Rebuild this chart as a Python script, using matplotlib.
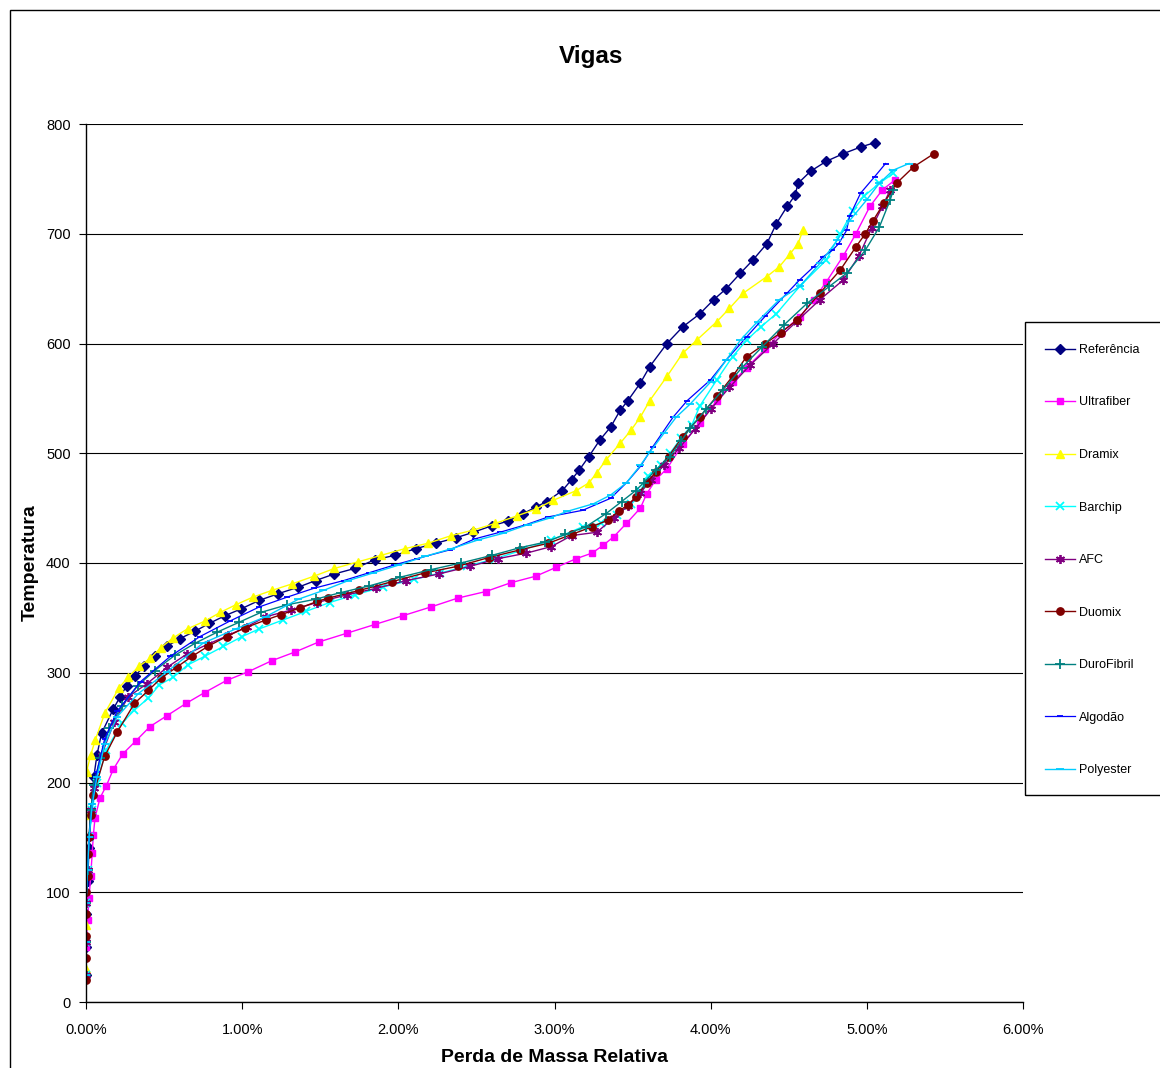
import matplotlib
matplotlib.use("Agg")
import matplotlib.pyplot as plt
from matplotlib.patches import Rectangle
from matplotlib.ticker import FuncFormatter

plt.rcParams['font.family'] = ['Liberation Sans', 'DejaVu Sans']

# x = perda de massa relativa (%), T = temperatura
ref_x = [0.00, 0.00, 0.00, 0.01, 0.02, 0.03, 0.05, 0.07, 0.10, 0.175, 0.218, 0.26, 0.314, 0.371, 0.442, 0.517, 0.60, 0.70,
         0.79, 0.89, 0.99, 1.11, 1.23, 1.36, 1.47, 1.59, 1.72, 1.85, 1.98, 2.11, 2.24, 2.37, 2.48, 2.60, 2.70, 2.80, 2.88,
         2.95, 3.05, 3.11, 3.16, 3.22, 3.29, 3.36, 3.42, 3.47, 3.55, 3.61, 3.72, 3.82, 3.93, 4.02, 4.10, 4.19, 4.27, 4.36,
         4.42, 4.49, 4.54, 4.56, 4.64, 4.74, 4.85, 4.96, 5.05]
ref_t = [25, 50, 80, 110, 140, 170, 205, 225, 245, 267, 278, 288, 297, 306, 315, 324, 331, 338,
         345, 352, 358, 366, 372, 378, 384, 390, 395, 403, 407, 413, 418, 423, 428, 434, 438, 445, 451,
         456, 466, 476, 485, 497, 512, 524, 539, 548, 564, 579, 600, 615, 627, 640, 650, 664, 676, 691,
         709, 725, 735, 746, 757, 766, 773, 779, 783]

ultra_x = [0.00, 0.00, 0.01, 0.02, 0.03, 0.04, 0.047, 0.058, 0.09, 0.13, 0.175, 0.235, 0.32, 0.41, 0.52, 0.64, 0.76,
           0.90, 1.04, 1.19, 1.34, 1.49, 1.67, 1.85, 2.03, 2.21, 2.38, 2.56, 2.72, 2.88, 3.01, 3.14, 3.24, 3.31, 3.38,
           3.46, 3.55, 3.59, 3.65, 3.72, 3.82, 3.93, 4.04, 4.14, 4.23, 4.35, 4.45, 4.57, 4.66, 4.74, 4.85, 4.93, 5.02,
           5.10, 5.18]
ultra_t = [25, 50, 75, 95, 115, 136, 152, 168, 186, 197, 212, 226, 238, 251, 261, 272, 282,
           293, 301, 311, 319, 328, 336, 344, 352, 360, 368, 374, 382, 388, 396, 404, 409, 416, 424,
           436, 450, 463, 476, 486, 508, 528, 548, 565, 578, 595, 610, 624, 640, 656, 680, 700, 725,
           740, 749]

dramix_x = [0.00, 0.00, 0.00, 0.00, 0.004, 0.03, 0.06, 0.12, 0.21, 0.27, 0.34, 0.41, 0.48, 0.56, 0.65, 0.76, 0.86,
            0.96, 1.07, 1.19, 1.32, 1.46, 1.59, 1.74, 1.89, 2.04, 2.19, 2.34, 2.48, 2.62, 2.76, 2.88, 2.99, 3.14,
            3.22, 3.27, 3.33, 3.42, 3.49, 3.55, 3.61, 3.72, 3.82, 3.91, 4.04, 4.12, 4.21, 4.36, 4.44, 4.51, 4.56, 4.59]
dramix_t = [30, 70, 120, 170, 210, 225, 239, 263, 286, 296, 306, 313, 323, 332, 340, 347, 355,
            362, 369, 375, 381, 388, 395, 401, 407, 413, 418, 425, 430, 436, 443, 449, 457, 466,
            473, 482, 494, 509, 521, 533, 548, 570, 591, 603, 620, 632, 646, 661, 670, 682, 691, 703]

barchip_x = [0.00, 0.00, 0.00, 0.01, 0.02, 0.04, 0.07, 0.13, 0.23, 0.31, 0.40, 0.47, 0.56, 0.65, 0.76, 0.88, 1.00,
             1.11, 1.26, 1.41, 1.56, 1.72, 1.90, 2.10, 2.27, 2.44, 2.62, 2.80, 2.98, 3.18, 3.30, 3.40, 3.49, 3.55,
             3.60, 3.68, 3.74, 3.81, 3.88, 3.93, 4.04, 4.14, 4.23, 4.32, 4.42, 4.57, 4.74, 4.83, 4.91, 4.98, 5.08, 5.17]
barchip_t = [25, 55, 90, 120, 150, 175, 200, 230, 254, 266, 277, 289, 296, 307, 315, 324, 333,
             340, 348, 356, 364, 371, 378, 385, 391, 397, 404, 412, 421, 433, 436, 444, 454, 466,
             479, 489, 500, 514, 526, 543, 567, 588, 603, 615, 627, 652, 676, 700, 721, 734, 746, 755]

afc_x = [0.00, 0.00, 0.00, 0.01, 0.02, 0.03, 0.05, 0.10, 0.18, 0.27, 0.39, 0.52, 0.645, 0.78, 0.91, 1.03, 1.15, 1.31,
         1.48, 1.67, 1.86, 2.05, 2.26, 2.46, 2.64, 2.82, 2.98, 3.11, 3.27, 3.38, 3.47, 3.55, 3.62, 3.70, 3.80, 3.90,
         4.00, 4.12, 4.25, 4.40, 4.55, 4.70, 4.85, 4.95, 5.03, 5.10, 5.15]
afc_t = [25, 55, 90, 120, 150, 175, 195, 225, 255, 278, 290, 305, 317, 326, 334, 342, 351, 357,
         364, 371, 377, 384, 390, 397, 404, 409, 415, 425, 428, 441, 452, 464, 476, 489, 505, 522,
         540, 560, 580, 600, 620, 640, 658, 680, 705, 725, 740]

duomix_x = [0.00, 0.00, 0.00, 0.00, 0.00, 0.01, 0.01, 0.02, 0.03, 0.047, 0.12, 0.20, 0.31, 0.40, 0.48, 0.58, 0.68,
            0.78, 0.90, 1.02, 1.15, 1.25, 1.37, 1.48, 1.55, 1.75, 1.96, 2.17, 2.38, 2.58, 2.78, 2.96, 3.11, 3.24,
            3.34, 3.41, 3.47, 3.52, 3.59, 3.65, 3.73, 3.82, 3.93, 4.04, 4.14, 4.23, 4.35, 4.45, 4.55, 4.70, 4.83,
            4.93, 4.99, 5.04, 5.11, 5.19, 5.30, 5.43]
duomix_t = [20, 40, 60, 80, 100, 115, 135, 150, 170, 189, 224, 246, 272, 284, 295, 305, 315,
            324, 333, 341, 348, 353, 359, 365, 368, 375, 383, 391, 397, 405, 412, 418, 426, 433,
            439, 447, 453, 460, 473, 483, 497, 515, 533, 552, 570, 588, 600, 610, 621, 646, 667,
            688, 700, 712, 728, 746, 761, 773]

duro_x = [0.00, 0.00, 0.00, 0.01, 0.02, 0.03, 0.05, 0.09, 0.15, 0.23, 0.33, 0.44, 0.57, 0.70, 0.84, 0.98, 1.12,
          1.29, 1.47, 1.63, 1.81, 2.01, 2.21, 2.40, 2.60, 2.78, 2.94, 3.07, 3.20, 3.33, 3.43, 3.52, 3.57, 3.65,
          3.74, 3.81, 3.87, 3.97, 4.08, 4.20, 4.33, 4.47, 4.62, 4.76, 4.87, 4.99, 5.08, 5.15, 5.17]
duro_t = [25, 55, 90, 120, 150, 175, 198, 222, 250, 270, 288, 302, 316, 327, 337, 346, 355,
          362, 367, 373, 379, 387, 394, 400, 407, 414, 419, 426, 433, 445, 456, 466, 473, 485,
          497, 511, 523, 540, 558, 578, 597, 617, 637, 652, 664, 685, 706, 731, 740]

algodao_x = [0.00, 0.00, 0.00, 0.01, 0.02, 0.04, 0.07, 0.12, 0.20, 0.35, 0.54, 0.73, 0.92, 1.11, 1.29, 1.46, 1.65,
             1.81, 1.97, 2.12, 2.33, 2.49, 2.65, 2.82, 2.96, 3.18, 3.36, 3.46, 3.55, 3.63, 3.76, 3.85, 4.00, 4.10,
             4.23, 4.35, 4.49, 4.57, 4.66, 4.72, 4.78, 4.82, 4.87, 4.89, 4.96, 5.05, 5.12]
algodao_t = [25, 55, 90, 120, 150, 180, 210, 240, 265, 292, 315, 333, 347, 360, 369, 377, 384,
             391, 398, 404, 412, 422, 428, 435, 442, 448, 459, 473, 488, 506, 533, 548, 567, 585,
             606, 625, 646, 658, 670, 679, 685, 691, 703, 716, 737, 752, 764]

poly_x = [0.00, 0.00, 0.00, 0.01, 0.02, 0.04, 0.07, 0.12, 0.20, 0.335, 0.52, 0.75, 0.96, 1.15, 1.36, 1.52, 1.68,
          1.84, 2.00, 2.17, 2.34, 2.51, 2.67, 2.83, 2.97, 3.08, 3.25, 3.36, 3.46, 3.55, 3.61, 3.70, 3.78, 3.87,
          4.00, 4.10, 4.19, 4.30, 4.44, 4.57, 4.70, 4.81, 4.89, 5.00, 5.08, 5.17, 5.27]
poly_t = [25, 55, 90, 120, 150, 180, 205, 235, 260, 281, 301, 327, 340, 351, 367, 375, 384,
          391, 398, 406, 413, 421, 427, 435, 441, 447, 454, 462, 473, 489, 501, 518, 533, 545,
          565, 585, 603, 620, 640, 652, 673, 694, 712, 731, 746, 758, 764]

series = [
    ("Referência", ref_x, ref_t, "#000080", "D", 4.6, 1.0),
    ("Ultrafiber", ultra_x, ultra_t, "#FF00FF", "s", 4.6, 1.0),
    ("Dramix", dramix_x, dramix_t, "#FFFF00", "^", 6, 1.0),
    ("Barchip", barchip_x, barchip_t, "#00FFFF", "x", 5.5, 1.0),
    ("AFC", afc_x, afc_t, "#800080", (6, 2, 0), 6.5, 1.0),
    ("Duomix", duomix_x, duomix_t, "#800000", "o", 5.3, 1.0),
    ("DuroFibril", duro_x, duro_t, "#008080", "+", 6.5, 1.0),
    ("Algodão", algodao_x, algodao_t, "#0000FF", "_", 4.5, 0.9),
    ("Polyester", poly_x, poly_t, "#00CCFF", "_", 6, 1.0),
]

fig = plt.figure(figsize=(11.6, 10.68), dpi=100)
ax = fig.add_axes([86 / 1160, 1 - 1002 / 1068, (1023 - 86) / 1160, (1002 - 124) / 1068])

for name, xs, ts, col, mk, ms, lw in series:
    mew = 1.3 if mk in ("x", "+", "_") or isinstance(mk, tuple) else 1.0
    ax.plot(xs, ts, color=col, marker=mk, markersize=ms, linewidth=lw,
            markeredgewidth=mew, markeredgecolor=col, label=name)

ax.set_xlim(0, 6)
ax.set_ylim(0, 800)
ax.set_xticks([0, 1, 2, 3, 4, 5, 6])
ax.set_yticks(range(0, 801, 100))
ax.xaxis.set_major_formatter(FuncFormatter(lambda v, p: "%.2f%%" % v))
ax.yaxis.grid(True, color="black", linewidth=0.8)
ax.set_axisbelow(True)
ax.spines["top"].set_visible(False)
ax.spines["right"].set_visible(False)
ax.spines["left"].set_linewidth(1.0)
ax.spines["bottom"].set_linewidth(1.0)
ax.tick_params(direction="out", length=5, width=0.8, labelsize=10.5)
ax.tick_params(axis="x", pad=10)
ax.tick_params(axis="y", pad=6)

ax.set_xlabel("Perda de Massa Relativa", fontsize=14, fontweight="bold", labelpad=9)
ax.set_ylabel("Temperatura", fontsize=14, fontweight="bold", labelpad=5)
fig.text(0.5095, 1 - 57 / 1068, "Vigas", ha="center", va="center", fontsize=17.5, fontweight="bold")

# chart area border and legend box
fig.patches.append(Rectangle((10 / 1160, -0.05), 1.2, 1 - 10 / 1068 + 0.05, transform=fig.transFigure,
                             fill=False, edgecolor="black", linewidth=1.0))
fig.patches.append(Rectangle((1025 / 1160, 1 - 795 / 1068), 0.2, (795 - 322) / 1068, transform=fig.transFigure,
                             fill=False, edgecolor="black", linewidth=1.0))
leg = fig.legend(loc="upper left", bbox_to_anchor=(1040 / 1160, 1 - 339 / 1068), frameon=False,
                 fontsize=9, labelspacing=3.24, handlelength=2.4, handletextpad=0.3, borderaxespad=0)

fig.savefig("out.png", dpi=100)
